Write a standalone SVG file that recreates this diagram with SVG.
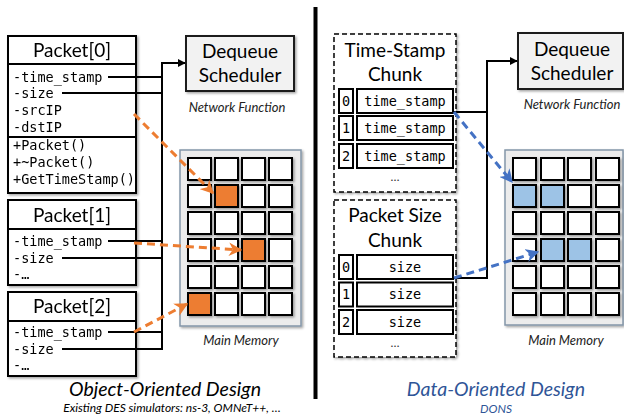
<svg xmlns="http://www.w3.org/2000/svg" width="624" height="419" viewBox="0 0 624 419">
<defs>
<filter id="sh" x="-10%" y="-10%" width="130%" height="130%">
<feDropShadow dx="1.5" dy="1.5" stdDeviation="1.2" flood-color="#000" flood-opacity="0.35"/>
</filter>
<marker id="ab" viewBox="0 0 10 10" refX="9" refY="5" markerWidth="4" markerHeight="4" orient="auto" markerUnits="strokeWidth">
<path d="M0,0 L10,5 L0,10 z" fill="#000"/>
</marker>
<marker id="ao" viewBox="0 0 10 10" refX="9" refY="5" markerWidth="4.5" markerHeight="4.5" orient="auto" markerUnits="strokeWidth">
<path d="M0,0 L10,5 L0,10 L3,5 z" fill="#ED7D31"/>
</marker>
<marker id="abl" viewBox="0 0 10 10" refX="9" refY="5" markerWidth="4.5" markerHeight="4.5" orient="auto" markerUnits="strokeWidth">
<path d="M0,0 L10,5 L0,10 L3,5 z" fill="#4472C4"/>
</marker>
</defs>
<style>
.box{fill:#fff;stroke:#000;stroke-width:2}
.sched{fill:#f2f2f2;stroke:#1a1a1a;stroke-width:2}
.mem{fill:#ececec;stroke:#8496a9;stroke-width:1.5}
.cell{fill:#fff;stroke:#000;stroke-width:2}
.or{fill:#ED7D31}
.bl{fill:#9DC3E6}
.chunk{fill:#fff;stroke:#000;stroke-width:1.5;stroke-dasharray:5 3}
.ttl{font-family:Lato,"Liberation Sans",sans-serif;font-size:19px;fill:#000;text-anchor:middle}
.mono{font-family:"DejaVu Sans Mono","Liberation Mono",monospace;font-size:13.5px;fill:#000}
.cap{font-family:Lato,"Liberation Sans",sans-serif;font-style:italic;font-size:13px;fill:#222;text-anchor:middle}
.dots{font-family:Lato,"Liberation Sans",sans-serif;font-size:12px;fill:#333;text-anchor:middle}
.big{font-family:Lato,"Liberation Sans",sans-serif;font-style:italic;font-size:19.5px;text-anchor:middle}
.sub{font-family:Lato,"Liberation Sans",sans-serif;font-style:italic;font-size:12px;text-anchor:middle}
.conn{fill:none;stroke:#000;stroke-width:2}
.od{fill:none;stroke:#ED7D31;stroke-width:3;stroke-dasharray:8 5}
.bd{fill:none;stroke:#4472C4;stroke-width:3;stroke-dasharray:8 5}
</style>

<!-- divider -->
<line x1="315.5" y1="7" x2="315.5" y2="399" stroke="#000" stroke-width="4"/>

<!-- LEFT: Object-Oriented -->
<g id="packet0" filter="url(#sh)">
<rect class="box" x="8" y="36" width="128" height="157"/>
<line x1="8" y1="64" x2="136" y2="64" stroke="#000" stroke-width="2"/>
<line x1="8" y1="137" x2="136" y2="137" stroke="#000" stroke-width="2"/>
<text class="ttl" x="72" y="57">Packet[0]</text>
<text class="mono" x="13" y="81.5">-time_stamp</text>
<text class="mono" x="13" y="98">-size</text>
<text class="mono" x="13" y="115">-srcIP</text>
<text class="mono" x="13" y="132">-dstIP</text>
<text class="mono" x="13" y="150">+Packet()</text>
<text class="mono" x="13" y="167">+~Packet()</text>
<text class="mono" x="13" y="184">+GetTimeStamp()</text>
</g>
<g id="packet1" filter="url(#sh)">
<rect class="box" x="8" y="200" width="128" height="85"/>
<line x1="8" y1="229" x2="136" y2="229" stroke="#000" stroke-width="2"/>
<text class="ttl" x="72" y="222">Packet[1]</text>
<text class="mono" x="13" y="245.5">-time_stamp</text>
<text class="mono" x="13" y="262.5">-size</text>
<text class="mono" x="13" y="279">-…</text>
</g>
<g id="packet2" filter="url(#sh)">
<rect class="box" x="8" y="292" width="128" height="84"/>
<line x1="8" y1="321" x2="136" y2="321" stroke="#000" stroke-width="2"/>
<text class="ttl" x="72" y="313">Packet[2]</text>
<text class="mono" x="13" y="336.5">-time_stamp</text>
<text class="mono" x="13" y="353.5">-size</text>
<text class="mono" x="13" y="370">-…</text>
</g>
<g id="scheduler-left">
<rect class="sched" x="186" y="36" width="108" height="55" filter="url(#sh)"/>
<text class="ttl" x="240" y="58">Dequeue</text>
<text class="ttl" x="240" y="82">Scheduler</text>
<text class="cap" x="237" y="112">Network Function</text>
</g>
<g id="memory-left">
<rect class="mem" x="180" y="150" width="121" height="176" filter="url(#sh)"/>
<g filter="url(#sh)">
<rect class="cell" x="188" y="158" width="23" height="22"/><rect class="cell" x="215" y="158" width="23" height="22"/><rect class="cell" x="242" y="158" width="23" height="22"/><rect class="cell" x="269" y="158" width="23" height="22"/>
<rect class="cell" x="188" y="185" width="23" height="22"/><rect class="cell or" x="215" y="185" width="23" height="22"/><rect class="cell" x="242" y="185" width="23" height="22"/><rect class="cell" x="269" y="185" width="23" height="22"/>
<rect class="cell" x="188" y="212" width="23" height="22"/><rect class="cell" x="215" y="212" width="23" height="22"/><rect class="cell" x="242" y="212" width="23" height="22"/><rect class="cell" x="269" y="212" width="23" height="22"/>
<rect class="cell" x="188" y="239" width="23" height="22"/><rect class="cell" x="215" y="239" width="23" height="22"/><rect class="cell or" x="242" y="239" width="23" height="22"/><rect class="cell" x="269" y="239" width="23" height="22"/>
<rect class="cell" x="188" y="266" width="23" height="22"/><rect class="cell" x="215" y="266" width="23" height="22"/><rect class="cell" x="242" y="266" width="23" height="22"/><rect class="cell" x="269" y="266" width="23" height="22"/>
<rect class="cell or" x="188" y="293" width="23" height="22"/><rect class="cell" x="215" y="293" width="23" height="22"/><rect class="cell" x="242" y="293" width="23" height="22"/><rect class="cell" x="269" y="293" width="23" height="22"/>
</g>
<text class="cap" x="241" y="345">Main Memory</text>
</g>

<!-- RIGHT: Data-Oriented -->
<g id="ts-chunk">
<rect class="chunk" x="334" y="34" width="122" height="158" filter="url(#sh)"/>
<text class="ttl" x="395" y="57">Time-Stamp</text>
<text class="ttl" x="395" y="81">Chunk</text>
<rect class="box" x="339" y="89" width="14" height="24"/><rect class="box" x="357" y="89" width="96" height="24"/>
<rect class="box" x="339" y="116" width="14" height="24"/><rect class="box" x="357" y="116" width="96" height="24"/>
<rect class="box" x="339" y="144" width="14" height="24"/><rect class="box" x="357" y="144" width="96" height="24"/>
<text class="mono" x="346" y="105.5" text-anchor="middle">0</text><text class="mono" x="405" y="105.5" text-anchor="middle">time_stamp</text>
<text class="mono" x="346" y="132.5" text-anchor="middle">1</text><text class="mono" x="405" y="132.5" text-anchor="middle">time_stamp</text>
<text class="mono" x="346" y="160.5" text-anchor="middle">2</text><text class="mono" x="405" y="160.5" text-anchor="middle">time_stamp</text>
<text class="dots" x="395" y="181">…</text>
</g>
<g id="size-chunk">
<rect class="chunk" x="334" y="200" width="122" height="157" filter="url(#sh)"/>
<text class="ttl" x="395" y="222">Packet Size</text>
<text class="ttl" x="395" y="247">Chunk</text>
<rect class="box" x="339" y="255" width="14" height="24"/><rect class="box" x="357" y="255" width="96" height="24"/>
<rect class="box" x="339" y="282.5" width="14" height="24"/><rect class="box" x="357" y="282.5" width="96" height="24"/>
<rect class="box" x="339" y="310" width="14" height="24"/><rect class="box" x="357" y="310" width="96" height="24"/>
<text class="mono" x="346" y="271.5" text-anchor="middle">0</text><text class="mono" x="405" y="271.5" text-anchor="middle">size</text>
<text class="mono" x="346" y="299" text-anchor="middle">1</text><text class="mono" x="405" y="299" text-anchor="middle">size</text>
<text class="mono" x="346" y="326.5" text-anchor="middle">2</text><text class="mono" x="405" y="326.5" text-anchor="middle">size</text>
<text class="dots" x="395" y="347">…</text>
</g>
<g id="scheduler-right">
<rect class="sched" x="518" y="33" width="105" height="56" filter="url(#sh)"/>
<text class="ttl" x="572" y="56">Dequeue</text>
<text class="ttl" x="572" y="80">Scheduler</text>
<text class="cap" x="572" y="109">Network Function</text>
</g>
<g id="memory-right">
<rect class="mem" x="505" y="150" width="118" height="175" filter="url(#sh)"/>
<g filter="url(#sh)">
<rect class="cell" x="513" y="158" width="23" height="22"/><rect class="cell" x="541" y="158" width="23" height="22"/><rect class="cell" x="568" y="158" width="23" height="22"/><rect class="cell" x="596" y="158" width="23" height="22"/>
<rect class="cell bl" x="513" y="185" width="23" height="22"/><rect class="cell bl" x="541" y="185" width="23" height="22"/><rect class="cell" x="568" y="185" width="23" height="22"/><rect class="cell" x="596" y="185" width="23" height="22"/>
<rect class="cell" x="513" y="212" width="23" height="22"/><rect class="cell" x="541" y="212" width="23" height="22"/><rect class="cell" x="568" y="212" width="23" height="22"/><rect class="cell" x="596" y="212" width="23" height="22"/>
<rect class="cell" x="513" y="239" width="23" height="22"/><rect class="cell bl" x="541" y="239" width="23" height="22"/><rect class="cell bl" x="568" y="239" width="23" height="22"/><rect class="cell" x="596" y="239" width="23" height="22"/>
<rect class="cell" x="513" y="266" width="23" height="22"/><rect class="cell" x="541" y="266" width="23" height="22"/><rect class="cell" x="568" y="266" width="23" height="22"/><rect class="cell" x="596" y="266" width="23" height="22"/>
<rect class="cell" x="513" y="293" width="23" height="22"/><rect class="cell" x="541" y="293" width="23" height="22"/><rect class="cell" x="568" y="293" width="23" height="22"/><rect class="cell" x="596" y="293" width="23" height="22"/>
</g>
<text class="cap" x="566" y="345">Main Memory</text>
</g>

<!-- connectors -->
<g id="connectors">
<path class="conn" d="M108,77 H162 M62,93 H162 M108,241 H162 M62,258 H162 M108,332 H162"/>
<path class="conn" d="M62,349 H162 V63 H185" marker-end="url(#ab)"/>
<path class="conn" d="M453,112 H487"/>
<path class="conn" d="M453,278 H487 V61 H517" marker-end="url(#ab)"/>
<path class="od" d="M134,114 L213,193" marker-end="url(#ao)"/>
<path class="od" d="M134,243 L241,250" marker-end="url(#ao)"/>
<path class="od" d="M134,332 L187,304" marker-end="url(#ao)"/>
<path class="bd" d="M454,112 L512,182" marker-end="url(#abl)"/>
<path class="bd" d="M454,278 L538,252" marker-end="url(#abl)"/>
</g>

<!-- titles -->
<text class="big" x="165" y="396" fill="#000">Object-Oriented Design</text>
<text class="sub" x="172" y="412" fill="#000">Existing DES simulators: ns-3, OMNeT++, …</text>
<text class="big" x="496" y="396" fill="#2F5597">Data-Oriented Design</text>
<text class="sub" x="496" y="413" fill="#2F5597">DONS</text>
</svg>
